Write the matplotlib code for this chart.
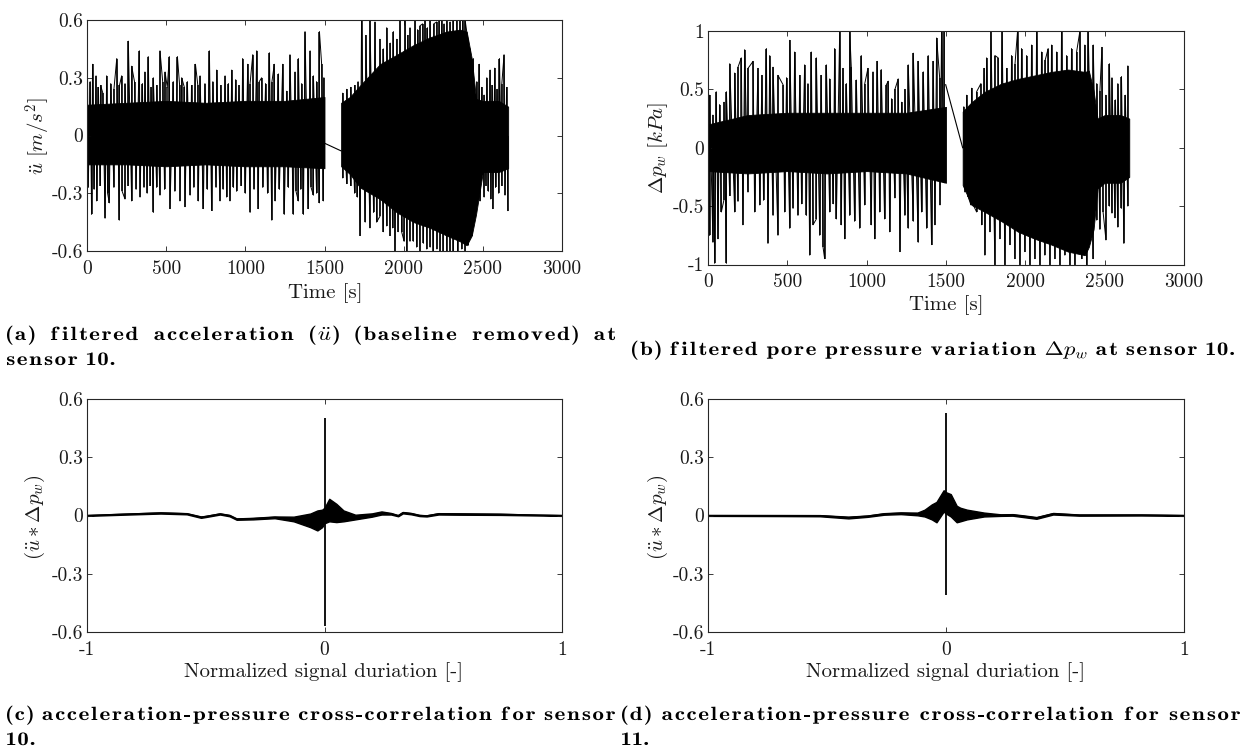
import re
import matplotlib
matplotlib.use("Agg")
import matplotlib.pyplot as plt
from matplotlib.textpath import TextPath
from matplotlib.patches import PathPatch
from matplotlib.font_manager import FontProperties
from matplotlib.transforms import Affine2D

plt.rcParams['font.family'] = 'cmr10'
plt.rcParams['mathtext.fontset'] = 'cm'
plt.rcParams['axes.unicode_minus'] = False

# ---------------- data ----------------
# panel (a): filtered acceleration, sensor 10
a_core_t1 = [0, 250, 500, 750, 1000, 1250, 1500]
a_core_hi1 = [0.16, 0.17, 0.18, 0.17, 0.18, 0.18, 0.20]
a_core_lo1 = [-0.15, -0.15, -0.16, -0.15, -0.16, -0.16, -0.17]
a_core_t2 = [1605, 1660, 1725, 1850, 1958, 2063, 2167, 2272, 2356, 2398, 2430, 2457, 2500, 2600, 2660]
a_core_hi2 = [0.17, 0.20, 0.26, 0.37, 0.42, 0.47, 0.51, 0.54, 0.55, 0.54, 0.40, 0.19, 0.18, 0.18, 0.15]
a_core_lo2 = [-0.16, -0.20, -0.27, -0.33, -0.40, -0.45, -0.48, -0.52, -0.55, -0.57, -0.52, -0.41, -0.19, -0.19, -0.17]
a_gap_t = [1500, 1605]
a_gap_v = [-0.04, -0.08]
a_up_t = [2, 20, 35, 57, 72, 86, 100, 124, 150, 170, 188, 205, 219, 240, 261, 282, 300, 331, 350, 366,
          387, 405, 419, 440, 461, 478, 493, 507, 520, 545, 571, 585, 598, 615, 634, 660, 685, 700, 714, 745,
          773, 795, 819, 845, 872, 893, 914, 939, 960, 983, 1015, 1030, 1047, 1072, 1088, 1103, 1128, 1152, 1168, 1183,
          1209, 1236, 1261, 1282, 1314, 1335, 1356, 1377, 1409, 1430, 1450, 1468, 1482, 1496,
          1615, 1640, 1665, 1690, 1712, 1734, 1761, 1787, 1819, 1850, 1872, 1893, 1915, 1935, 1957, 1977, 2009, 2025, 2040, 2072,
          2088, 2103, 2120, 2135, 2150, 2167, 2190, 2209, 2225, 2240, 2255, 2272, 2293, 2314, 2335, 2356, 2372, 2388, 2405, 2420,
          2440, 2462, 2478, 2493, 2508, 2525, 2546, 2560, 2575, 2590, 2605, 2620, 2634, 2650]
a_up_v = [0.45, 0.28, 0.37, 0.31, 0.25, 0.26, 0.22, 0.31, 0.27, 0.24, 0.40, 0.26, 0.31, 0.27, 0.49, 0.36, 0.28, 0.44, 0.27, 0.33,
          0.41, 0.25, 0.30, 0.26, 0.44, 0.28, 0.33, 0.25, 0.41, 0.28, 0.41, 0.26, 0.30, 0.25, 0.28, 0.26, 0.37, 0.26, 0.31, 0.27,
          0.44, 0.28, 0.34, 0.26, 0.31, 0.27, 0.34, 0.29, 0.26, 0.40, 0.37, 0.27, 0.42, 0.44, 0.28, 0.30, 0.27, 0.43, 0.28, 0.37,
          0.32, 0.37, 0.23, 0.42, 0.33, 0.40, 0.27, 0.54, 0.44, 0.31, 0.28, 0.54, 0.37, 0.30,
          0.22, 0.24, 0.25, 0.26, 0.28, 0.60, 0.52, 0.60, 0.59, 0.50, 0.45, 0.56, 0.48, 0.54, 0.50, 0.60, 0.60, 0.52, 0.56, 0.60,
          0.55, 0.57, 0.58, 0.60, 0.56, 0.60, 0.58, 0.59, 0.60, 0.60, 0.58, 0.60, 0.59, 0.60, 0.60, 0.60, 0.60, 0.60, 0.50, 0.45,
          0.40, 0.28, 0.37, 0.25, 0.21, 0.30, 0.34, 0.26, 0.35, 0.24, 0.40, 0.27, 0.42, 0.25]
a_lo_t = [8, 29, 45, 61, 85, 114, 130, 141, 170, 204, 222, 240, 260, 282, 310, 335, 360, 380, 400, 419,
          440, 461, 490, 524, 555, 587, 619, 651, 675, 703, 735, 760, 787, 815, 840, 860, 882, 903, 925, 945,
          975, 1000, 1030, 1055, 1082, 1110, 1140, 1167, 1188, 1215, 1246, 1272, 1303, 1320, 1335, 1350, 1367, 1398, 1415, 1430,
          1450, 1468, 1493,
          1615, 1640, 1665, 1690, 1708, 1725, 1757, 1787, 1810, 1829, 1850, 1872, 1893, 1914, 1930, 1945, 1965, 1987, 2003, 2019,
          2040, 2061, 2082, 2103, 2125, 2146, 2167, 2188, 2210, 2230, 2250, 2272, 2293, 2314, 2340, 2367, 2388, 2409, 2430, 2451,
          2467, 2483, 2508, 2520, 2535, 2550, 2563, 2580, 2600, 2620, 2640, 2658]
a_lo_v = [-0.27, -0.41, -0.28, -0.34, -0.26, -0.43, -0.30, -0.35, -0.27, -0.44, -0.29, -0.33, -0.26, -0.34, -0.28, -0.32, -0.27, -0.30, -0.26, -0.40,
          -0.27, -0.31, -0.28, -0.38, -0.29, -0.34, -0.37, -0.31, -0.27, -0.34, -0.38, -0.28, -0.39, -0.27, -0.34, -0.28, -0.32, -0.34, -0.27, -0.29,
          -0.26, -0.30, -0.40, -0.28, -0.38, -0.27, -0.30, -0.44, -0.34, -0.28, -0.41, -0.27, -0.41, -0.29, -0.34, -0.28, -0.41, -0.38, -0.27, -0.31,
          -0.30, -0.35, -0.34,
          -0.22, -0.25, -0.26, -0.30, -0.32, -0.52, -0.45, -0.48, -0.40, -0.45, -0.42, -0.50, -0.47, -0.52, -0.48, -0.60, -0.50, -0.50, -0.55, -0.60,
          -0.55, -0.55, -0.58, -0.60, -0.56, -0.59, -0.58, -0.60, -0.59, -0.60, -0.60, -0.60, -0.60, -0.60, -0.60, -0.59, -0.60, -0.57, -0.52, -0.41,
          -0.30, -0.34, -0.32, -0.26, -0.29, -0.33, -0.38, -0.27, -0.30, -0.26, -0.31, -0.39]

# panel (b): filtered pore pressure variation, sensor 10
b_core_t1 = [0, 250, 500, 750, 1000, 1250, 1500]
b_core_hi1 = [0.20, 0.28, 0.30, 0.30, 0.30, 0.30, 0.35]
b_core_lo1 = [-0.20, -0.22, -0.20, -0.22, -0.20, -0.22, -0.30]
b_core_t2 = [1605, 1661, 1745, 1850, 1955, 2060, 2165, 2270, 2375, 2400, 2430, 2455, 2500, 2600, 2655]
b_core_hi2 = [0.31, 0.39, 0.48, 0.55, 0.59, 0.62, 0.65, 0.67, 0.65, 0.66, 0.49, 0.25, 0.28, 0.28, 0.25]
b_core_lo2 = [-0.32, -0.49, -0.55, -0.63, -0.72, -0.78, -0.83, -0.89, -0.92, -0.85, -0.70, -0.35, -0.30, -0.30, -0.25]
b_gap_t = [1498, 1605]
b_gap_v = [0.54, 0.0]
b_up_t = [10, 31, 52, 73, 101, 116, 137, 168, 189, 210, 231, 252, 284, 315, 340, 368, 389, 410, 441, 473,
          495, 515, 546, 578, 609, 630, 651, 683, 714, 746, 767, 798, 830, 851, 872, 893, 903, 935, 966, 988,
          1008, 1040, 1067, 1092, 1124, 1136, 1157, 1178, 1199, 1220, 1241, 1262, 1294, 1325, 1357, 1388, 1420, 1441, 1460, 1472,
          1489,
          1612, 1630, 1661, 1693, 1720, 1741, 1756, 1783, 1808, 1829, 1854, 1882, 1913, 1935, 1951, 1976, 2008, 2039, 2071, 2102,
          2125, 2144, 2165, 2197, 2228, 2260, 2291, 2323, 2344, 2375, 2396, 2428, 2450, 2470, 2483, 2508, 2530, 2546, 2568, 2583,
          2606, 2630, 2646]
b_up_v = [0.45, 0.28, 0.48, 0.37, 0.39, 0.48, 0.72, 0.64, 0.69, 0.77, 0.84, 0.68, 0.74, 0.68, 0.62, 0.85, 0.79, 0.69, 0.62, 0.54,
          0.60, 0.92, 0.82, 0.62, 0.71, 0.55, 0.82, 0.77, 0.62, 0.71, 0.59, 0.85, 1.0, 0.68, 0.55, 1.0, 0.69, 0.58, 0.79, 0.55,
          0.68, 0.65, 0.74, 0.67, 0.54, 0.57, 0.42, 0.50, 0.59, 0.39, 0.50, 0.71, 0.81, 0.74, 0.65, 0.79, 0.74, 0.94, 0.60, 1.0,
          1.0,
          0.35, 0.45, 0.51, 0.48, 0.55, 0.68, 0.77, 1.0, 0.79, 0.77, 1.0, 0.68, 0.79, 0.72, 1.0, 0.85, 0.79, 0.88, 1.0, 0.82,
          0.75, 0.85, 0.88, 0.82, 1.0, 0.79, 0.85, 0.82, 1.0, 0.88, 1.0, 0.88, 0.55, 0.49, 0.86, 0.45, 0.72, 0.60, 0.41, 0.55,
          0.61, 0.45, 0.70]
b_lo_t = [10, 31, 42, 63, 84, 100, 116, 137, 168, 189, 220, 252, 294, 326, 350, 378, 410, 441, 483, 515,
          536, 567, 590, 620, 641, 662, 683, 704, 725, 735, 767, 790, 809, 840, 861, 893, 924, 956, 987, 1029,
          1050, 1082, 1113, 1145, 1178, 1210, 1241, 1262, 1294, 1325, 1346, 1378, 1409, 1430, 1462, 1489,
          1620, 1640, 1657, 1675, 1693, 1724, 1745, 1777, 1808, 1840, 1871, 1903, 1934, 1966, 1997, 2029, 2060, 2092, 2123, 2155,
          2186, 2218, 2249, 2281, 2312, 2354, 2386, 2428, 2450, 2470, 2490, 2508, 2530, 2546, 2565, 2583, 2605, 2621, 2646]
b_lo_v = [-0.75, -0.81, -0.99, -0.78, -0.55, -0.45, -0.99, -0.41, -0.55, -0.46, -0.66, -0.38, -0.55, -0.49, -0.45, -0.82, -0.58, -0.75, -0.55, -0.69,
          -0.52, -0.58, -0.48, -0.58, -0.92, -0.66, -0.61, -0.75, -0.85, -0.95, -0.55, -0.48, -0.61, -0.66, -0.78, -0.58, -0.63, -0.69, -0.49, -0.66,
          -0.78, -0.55, -0.61, -0.72, -0.43, -0.89, -0.58, -0.69, -0.63, -0.81, -0.55, -0.69, -0.83, -0.66, -0.49, -0.30,
          -0.38, -0.42, -0.49, -0.50, -0.55, -0.66, -0.92, -0.72, -1.0, -0.78, -1.0, -0.83, -0.95, -1.0, -0.89, -1.0, -0.95, -1.0, -0.92, -1.0,
          -0.95, -1.0, -0.92, -1.0, -1.0, -0.95, -1.0, -0.95, -0.62, -0.70, -0.55, -0.79, -0.50, -0.56, -0.60, -0.68, -0.52, -0.82, -0.50]

# panel (c): cross-correlation, sensor 10
c_x = [-1.0, -0.85, -0.69, -0.58, -0.52, -0.50, -0.44, -0.40, -0.37, -0.30, -0.21, -0.13, -0.06, -0.03, -0.01,
       0.0, 0.02, 0.05, 0.08, 0.13, 0.20, 0.24, 0.28, 0.31, 0.33, 0.365, 0.40, 0.43, 0.48, 0.57, 0.74, 0.90, 1.0]
c_hi = [0.002, 0.009, 0.016, 0.012, -0.005, -0.002, 0.011, 0.003, -0.015, -0.012, -0.005, -0.006, 0.010, 0.026, 0.030,
        0.040, 0.086, 0.060, 0.026, 0.004, 0.011, 0.021, 0.013, 0.002, 0.018, 0.013, 0.003, 0.001, 0.012, 0.011, 0.009, 0.004, 0.002]
c_lo = [-0.002, 0.004, 0.010, 0.006, -0.012, -0.008, 0.005, -0.004, -0.022, -0.020, -0.014, -0.030, -0.060, -0.077, -0.060,
        -0.040, -0.030, -0.034, -0.030, -0.020, -0.006, 0.005, 0.005, -0.004, 0.011, 0.006, -0.003, -0.005, 0.005, 0.004, 0.003, 0.000, -0.002]
c_peak = [0.50, -0.57]

# panel (d): cross-correlation, sensor 11
d_x = [-1.0, -0.70, -0.53, -0.41, -0.33, -0.26, -0.19, -0.12, -0.09, -0.06, -0.04, -0.01, 0.0, 0.02, 0.045,
       0.06, 0.088, 0.16, 0.23, 0.28, 0.33, 0.38, 0.45, 0.56, 0.82, 1.0]
d_hi = [0.002, 0.002, 0.002, -0.006, 0.000, 0.012, 0.016, 0.015, 0.030, 0.057, 0.070, 0.130, 0.120, 0.110, 0.050,
        0.040, 0.030, 0.015, 0.006, 0.007, 0.000, -0.008, 0.013, 0.005, 0.005, 0.002]
d_lo = [-0.002, -0.003, -0.004, -0.015, -0.007, 0.004, 0.007, 0.001, -0.005, -0.020, -0.035, 0.020, 0.010, -0.005, -0.035,
        -0.030, -0.020, -0.005, -0.002, -0.001, -0.009, -0.017, 0.005, -0.001, 0.000, -0.002]
d_peak = [0.526, -0.41]

time_ticks = [0, 500, 1000, 1500, 2000, 2500, 3000]
acc_ticks = [-0.6, -0.3, 0, 0.3, 0.6]
acc_labels = ["-0.6", "-0.3", "0", "0.3", "0.6"]
p_ticks = [-1, -0.5, 0, 0.5, 1]
p_labels = ["-1", "-0.5", "0", "0.5", "1"]
n_ticks = [-1, 0, 1]
n_labels = ["-1", "0", "1"]

# ---------------- figure ----------------
W, H = 1247, 749
fig = plt.figure(figsize=(W / 100, H / 100), dpi=100)


def px_axes(l, t, r, b):
    return fig.add_axes([l / W, 1 - b / H, (r - l) / W, (b - t) / H])


ax_a = px_axes(87, 20, 562, 251)
ax_b = px_axes(708, 31, 1184, 264.5)
ax_c = px_axes(87, 399, 562, 632)
ax_d = px_axes(708, 399, 1184, 632)

K = 'black'


def zigzag(ut, uv, lt, lv, t0, t1):
    pts = sorted([(t, v) for t, v in zip(ut, uv) if t0 <= t <= t1] +
                 [(t, v) for t, v in zip(lt, lv) if t0 <= t <= t1])
    return [p[0] for p in pts], [p[1] for p in pts]


for ax, core, gap, up, lo in [
        (ax_a, [(a_core_t1, a_core_hi1, a_core_lo1), (a_core_t2, a_core_hi2, a_core_lo2)],
         (a_gap_t, a_gap_v), (a_up_t, a_up_v), (a_lo_t, a_lo_v)),
        (ax_b, [(b_core_t1, b_core_hi1, b_core_lo1), (b_core_t2, b_core_hi2, b_core_lo2)],
         (b_gap_t, b_gap_v), (b_up_t, b_up_v), (b_lo_t, b_lo_v))]:
    for t, hi, lo_ in core:
        ax.fill_between(t, lo_, hi, color=K, lw=0.6)
    ax.vlines(up[0], 0, up[1], color=K, lw=1.1)
    ax.vlines(lo[0], lo[1], 0, color=K, lw=1.1)
    for t0, t1 in [(core[0][0][0], core[0][0][-1]), (core[1][0][0], core[1][0][-1])]:
        zt, zv = zigzag(up[0], up[1], lo[0], lo[1], t0, t1)
        ax.plot(zt, zv, color=K, lw=0.7)
    ax.plot(gap[0], gap[1], color=K, lw=0.8)

for ax, x, hi, lo, pk in [(ax_c, c_x, c_hi, c_lo, c_peak), (ax_d, d_x, d_hi, d_lo, d_peak)]:
    ax.fill_between(x, lo, hi, color=K, lw=1.0)
    ax.plot(x, [(h + l) / 2 for h, l in zip(hi, lo)], color=K, lw=1.0)
    ax.vlines([0.0], pk[1], pk[0], color=K, lw=1.3)

for ax in (ax_a, ax_b):
    ax.set_xlim(0, 3000)
    ax.set_xticks(time_ticks)
    ax.set_xticklabels([str(v) for v in time_ticks])
ax_a.set_ylim(-0.6, 0.6)
ax_a.set_yticks(acc_ticks)
ax_a.set_yticklabels(acc_labels)
ax_b.set_ylim(-1, 1)
ax_b.set_yticks(p_ticks)
ax_b.set_yticklabels(p_labels)
for ax in (ax_c, ax_d):
    ax.set_xlim(-1, 1)
    ax.set_xticks(n_ticks)
    ax.set_xticklabels(n_labels)
    ax.set_ylim(-0.6, 0.6)
    ax.set_yticks(acc_ticks)
    ax.set_yticklabels(acc_labels)

for ax in (ax_a, ax_b, ax_c, ax_d):
    ax.tick_params(direction='in', top=True, right=True, length=3.5, width=0.6,
                   labelsize=14, colors='0.1')
    ax.tick_params(axis='x', pad=6.5)
    ax.tick_params(axis='y', pad=3)
    for s in ax.spines.values():
        s.set_linewidth(0.8)
        s.set_color('0.15')


def ftext(x, y, s, **kw):
    return fig.text(x / W, 1 - y / H, s, **kw)


lab = dict(fontsize=15, color='0.1', ha='center', va='center')
ftext(325, 293, "Time [s]", **lab)
ftext(946, 305, "Time [s]", **lab)
ftext(324, 672, "Normalized signal duriation [-]", **lab)
ftext(946, 672, "Normalized signal duriation [-]", **lab)
ftext(38, 136, r"$\ddot{u}\ [m/s^2]$", rotation=90, **lab)
ftext(658, 148, r"$\Delta p_w\ [kPa]$", rotation=90, **lab)
ftext(35, 517, r"$(\ddot{u} * \Delta p_w)$", rotation=90, **lab)
ftext(658, 517, r"$(\ddot{u} * \Delta p_w)$", rotation=90, **lab)

# ---------------- extended bold, letter-spaced, justified captions ----------------
CAP_PROP = FontProperties(family='cmb10')
CAP_SIZE = 13.8 * 100 / 72.0   # pixels
SX = 1.2                       # horizontal extension of the bold face
_pcache = {}


def unit_path(s):
    if s not in _pcache:
        p = TextPath((0, 0), s, size=CAP_SIZE, prop=CAP_PROP)
        _pcache[s] = (p, p.get_extents())
    return _pcache[s]


def unit_w(s):
    return unit_path(s)[1].width * SX


def units(word):
    out = []
    for f in re.split(r'(\$[^$]*\$)', word):
        if not f:
            continue
        if f.startswith('$'):
            out.append(f)
        else:
            out.extend(list(f))
    return out


SPACE = 0.30 * CAP_SIZE * SX


def word_width(word, track):
    u = units(word)
    return sum(unit_w(c) for c in u) + track * (len(u) - 1)


def solve_track(words, total):
    s = sum(sum(unit_w(c) for c in units(w)) for w in words)
    n = sum(len(units(w)) - 1 for w in words) + (len(words) - 1)
    return (total - s - (len(words) - 1) * SPACE) / n


def draw_unit(s, x, ybase):
    p, ext = unit_path(s)
    tr = Affine2D().translate(-ext.x0, 0).scale(SX, 1).translate(x, H - ybase)
    fig.add_artist(PathPatch(p, transform=tr, facecolor='black', edgecolor='none'))


def cap_line(words, x0, y, track, x1=None):
    wws = [word_width(w, track) for w in words]
    if x1 is not None and len(words) > 1:
        gap = (x1 - x0 - sum(wws)) / (len(words) - 1)
    else:
        gap = SPACE + track
    x = x0
    for w in words:
        for c in units(w):
            draw_unit(c, x, y)
            x += unit_w(c) + track
        x += gap - track


words_b = ["(b)", "filtered", "pore", "pressure", "variation", r"$\Delta p_w$", "at", "sensor", "10."]
TRACK = solve_track(words_b, 1234 - 632)

cap_line(["(a)", "filtered", "acceleration", r"($\ddot{u}$)", "(baseline", "removed)", "at"], 7, 340, TRACK, 615)
cap_line(["sensor", "10."], 7, 365, TRACK)
cap_line(words_b, 632, 355, TRACK)
cap_line(["(c)", "acceleration-pressure", "cross-correlation", "for", "sensor"], 7, 720, TRACK, 615)
cap_line(["10."], 7, 745, TRACK)
cap_line(["(d)", "acceleration-pressure", "cross-correlation", "for", "sensor"], 622, 720, TRACK, 1240)
cap_line(["11."], 622, 745, TRACK)

fig.savefig("out.png", dpi=100)
